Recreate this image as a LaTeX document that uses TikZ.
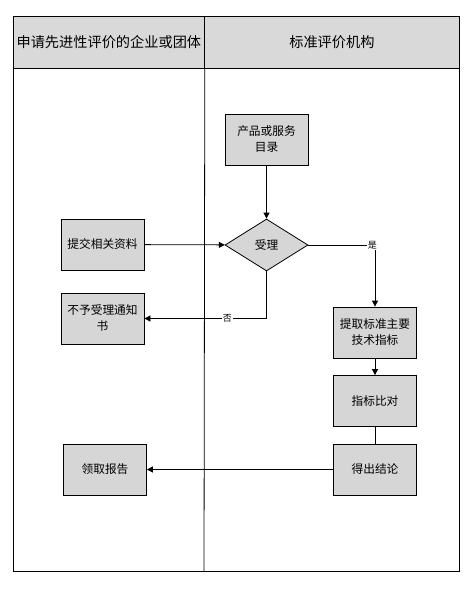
\documentclass[tikz,border=0pt]{standalone}
\usepackage{fontspec}
\setmainfont{Noto Sans CJK SC}
\usetikzlibrary{positioning,calc,shapes.geometric,arrows.meta}
\definecolor{lanegray}{HTML}{D9D9D9}
\definecolor{boxgray}{HTML}{D6D6D6}
\tikzset{
  stepbox/.style={draw=black,line width=0.8pt,fill=boxgray,minimum width=83pt,
        minimum height=51pt,inner sep=0pt,align=center,font=\fontsize{11.7}{16}\selectfont},
  lanehead/.style={draw=black,line width=0.8pt,fill=lanegray,minimum height=52pt,
        anchor=north west,inner sep=0pt,font=\fontsize{14.2}{16}\selectfont},
  flow/.style={line width=0.8pt,-{Triangle[length=6pt,width=6pt]}},
  plain/.style={line width=0.8pt},
  tag/.style={fill=white,inner sep=1pt,font=\fontsize{9}{10}\selectfont}
}

\begin{document}
\begin{tikzpicture}[x=1pt,y=-1pt]
  \useasboundingbox[fill=white] (0,0) rectangle (468,589);
  \draw[plain] (13,16) rectangle (459,571);
  \node[lanehead,minimum width=191pt] (laneA) at (13,16) {申请先进性评价的企业或团体};
  \node[lanehead,minimum width=255pt] (laneB) at (204,16) {标准评价机构};
  \draw[plain] (laneA.south east) -- (204,571);

  \node[stepbox] (cat) at (266.5,139.5) {产品或服务\\目录};
  \node[stepbox,diamond,aspect=1.6,minimum width=83pt,minimum height=52pt] (acc) at (266.5,245) {受理};
  \node[stepbox] (submit) at (102.5,244.5) {提交相关资料};
  \node[stepbox] (reject) at (102.5,318.5) {不予受理通知\\书};
  \node[stepbox] (ext) at (375,332.5) {提取标准主要\\技术指标};
  \node[stepbox] (cmp) at (375,401) {指标比对};
  \node[stepbox] (res) at (375,469.5) {得出结论};
  \node[stepbox] (rep) at (105,469.5) {领取报告};

  \draw[flow] (cat) -- (acc);
  \draw[flow] (submit) -- (acc);
  \draw[flow] (acc.east) -| node[tag,pos=0.48] {是} (ext.north);
  \draw[flow] (acc.south) |- node[tag,pos=0.66] {否} (reject.east);
  \draw[flow] (ext) -- (cmp);
  \draw[plain] (cmp) -- (res);
  \draw[flow] (res) -- (rep);
\end{tikzpicture}
\end{document}
